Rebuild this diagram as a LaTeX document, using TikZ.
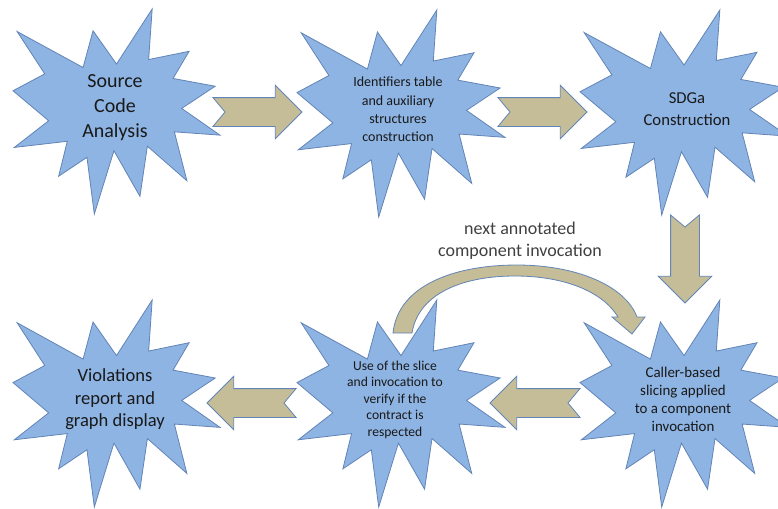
\documentclass[tikz,border=0pt]{standalone}
\usepackage{fontspec}
\setmainfont{Carlito}
\usetikzlibrary{calc}

\definecolor{burstfill}{RGB}{142,180,227}
\definecolor{burstedge}{RGB}{98,132,182}
\definecolor{arrowfill}{RGB}{196,189,151}
\definecolor{notegray}{RGB}{64,64,64}

\tikzset{every picture/.style={line width=0.75pt}}
\tikzset{
  burst/.style={fill=burstfill, draw=burstedge, line width=0.6pt},
  blockarrow/.style={fill=arrowfill, draw=burstedge, line width=0.6pt},
  bursttext/.style={align=center, inner sep=0.75pt, text=black!90},
  explosion/.pic={
    \path[burst] (0,-0.2315) -- (0.1723,-0.5) -- (0.1553,-0.2535) -- (0.3509,-0.2937)
      -- (0.2732,-0.1613) -- (0.4767,-0.1233) -- (0.3151,-0.0150) -- (0.5,0.1153)
      -- (0.2795,0.0992) -- (0.3400,0.3377) -- (0.1491,0.1693) -- (0.1133,0.4138)
      -- (-0.0124,0.1914) -- (-0.1072,0.5) -- (-0.1428,0.2235) -- (-0.2795,0.3156)
      -- (-0.2376,0.1452) -- (-0.4938,0.1753) -- (-0.3277,0.0451) -- (-0.5,-0.1012)
      -- (-0.3467,-0.1835) -- (-0.48,-0.39) -- (-0.1615,-0.2146) -- (-0.1133,-0.3938)
      -- cycle;
  }
}

% notched block arrow from tail #1 to tip #2
\newcommand{\notcharrow}[2]{%
  \coordinate (hb) at ($(#2)!20pt!(#1)$);
  \coordinate (nt) at ($(#1)!9pt!(#2)$);
  \path[blockarrow] ($(#1)!10.8pt!90:(#2)$) -- ($(hb)!10.8pt!90:(#2)$)
    -- ($(hb)!20pt!90:(#2)$) -- (#2) -- ($(hb)!20pt!-90:(#2)$)
    -- ($(hb)!10.8pt!-90:(#2)$) -- ($(#1)!10.8pt!-90:(#2)$) -- (nt) -- cycle;
}

\begin{document}
\begin{tikzpicture}[x=0.75pt,y=0.75pt,yscale=-1,xscale=1]
    \useasboundingbox (0,0) rectangle (778,508);
    \clip (0,0) rectangle (778,508);

    % Stars (pics ignore the outer yscale, so flip here)
    \pic[xscale=207,yscale=-205] at (116.5,111.5) {explosion};
    \pic[xscale=208,yscale=-207] at (401,113.5) {explosion};
    \pic[xscale=208,yscale=-205] at (684,112.5) {explosion};
    \pic[xscale=207,yscale=-207] at (116.5,403.5) {explosion};
    \pic[xscale=208,yscale=-207] at (401,403.5) {explosion};
    \pic[xscale=208,yscale=-207] at (684,403.5) {explosion};

    % Text Nodes
    \node[bursttext, font=\fontsize{15}{18.75}\selectfont] (source) at (115,108) {Source\\Code\\Analysis};
    \node[bursttext, font=\fontsize{10.5}{13.7}\selectfont] (idtable) at (398,109.5) {Identifiers table\\and auxiliary\\structures\\construction};
    \node[bursttext, font=\fontsize{12.5}{16.3}\selectfont] (sdga) at (687,109) {SDGa\\Construction};
    \node[bursttext, font=\fontsize{11.2}{13.5}\selectfont] (slicing) at (683,399.5) {Caller-based\\slicing applied\\to a component\\invocation};
    \node[bursttext, font=\fontsize{10.2}{12.4}\selectfont] (verify) at (395,399.5) {Use of the slice\\and invocation to\\verify if the\\contract is\\respected};
    \node[bursttext, font=\fontsize{13.9}{16.9}\selectfont] (report) at (115,399.5) {Violations\\report and\\graph display};
    \node[align=center, inner sep=0.75pt, text=notegray, font=\fontsize{13.5}{16.5}\selectfont] (nextlbl) at (520,241) {next annotated\\component invocation};

    % Block arrows
    \coordinate (a1s) at (213,112);
    \coordinate (a1e) at (302,112);
    \coordinate (a2s) at (498,112);
    \coordinate (a2e) at (587,112);
    \coordinate (a3s) at (685,215);
    \coordinate (a3e) at (685,303);
    \coordinate (a4s) at (580,403);
    \coordinate (a4e) at (490,403);
    \coordinate (a5s) at (296,403);
    \coordinate (a5e) at (207,403);
    \notcharrow{a1s}{a1e}
    \notcharrow{a2s}{a2e}
    \notcharrow{a3s}{a3e}
    \notcharrow{a4s}{a4e}
    \notcharrow{a5s}{a5e}

    % Curved arrow
    \path[blockarrow] (393,333) .. controls (398,285) and (455,265) .. (517,265)
      .. controls (575,265) and (625,285) .. (637,317) -- (645,317) -- (632,334)
      -- (612,317) -- (618,317) .. controls (603,292) and (565,276) .. (515,276)
      .. controls (460,276) and (418,295) .. (412,333) -- cycle;
\end{tikzpicture}
\end{document}
